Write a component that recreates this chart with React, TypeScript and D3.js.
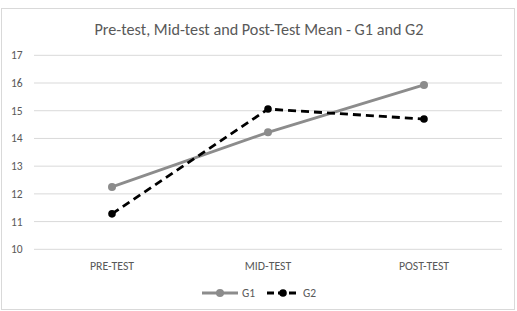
import * as d3 from "d3";

const categories = ["PRE-TEST", "MID-TEST", "POST-TEST"];
const g1Values = [12.25, 14.22, 15.93];
const g2Values = [11.28, 15.06, 14.7];
const yTicks = [10, 11, 12, 13, 14, 15, 16, 17];

const series = [
  { name: "G1", values: g1Values, color: "#8c8c8c", dash: "", r: 4 },
  { name: "G2", values: g2Values, color: "#000000", dash: "8,5", r: 3.8 },
];

export default function App() {
  const width = 517;
  const height = 311;
  const font = "Carlito, 'Open Sans', 'Liberation Sans', sans-serif";

  const x = d3.scaleBand().domain(categories).range([34, 502]);
  const y = d3.scaleLinear().domain([10, 17]).range([249.3, 55.3]);
  const line = d3
    .line<number>()
    .x((_, i) => (x(categories[i]) || 0) + x.bandwidth() / 2)
    .y((d) => y(d));

  return (
    <svg
      width={width}
      height={height}
      style={{ position: "absolute", left: 0, top: 0, background: "#fff" }}
    >
      <rect x={1.5} y={8.5} width={513} height={301} fill="#fff" stroke="#d9d9d9" />
      <text
        x={259}
        y={35}
        textAnchor="middle"
        fontSize={16.2}
        fontFamily={font}
        fill="#595959"
      >
        Pre-test, Mid-test and Post-Test Mean - G1 and G2
      </text>

      {/* gridlines + y labels */}
      {yTicks.map((t) => (
        <g key={t}>
          <line x1={34} x2={502} y1={y(t)} y2={y(t)} stroke="#d9d9d9" strokeWidth={1} />
          <text
            x={11}
            y={y(t)}
            dominantBaseline="central"
            fontSize={11.5}
            fontFamily={font}
            fill="#595959"
          >
            {t}
          </text>
        </g>
      ))}

      {/* category labels */}
      {categories.map((c) => (
        <text
          key={c}
          x={(x(c) || 0) + x.bandwidth() / 2}
          y={266}
          textAnchor="middle"
          dominantBaseline="central"
          fontSize={11.8}
          fontFamily={font}
          fill="#595959"
        >
          {c}
        </text>
      ))}

      {/* series */}
      {series.map((s) => (
        <g key={s.name}>
          <path
            d={line(s.values) || ""}
            fill="none"
            stroke={s.color}
            strokeWidth={2.8}
            strokeDasharray={s.dash}
          />
          {s.values.map((v, i) => (
            <circle
              key={i}
              cx={(x(categories[i]) || 0) + x.bandwidth() / 2}
              cy={y(v)}
              r={s.r}
              fill={s.color}
            />
          ))}
        </g>
      ))}

      {/* legend */}
      {series.map((s, i) => {
        const lx = i === 0 ? 202 : 267;
        const lw = i === 0 ? 36 : 32;
        return (
          <g key={s.name}>
            <line
              x1={lx}
              x2={lx + lw}
              y1={293}
              y2={293}
              stroke={s.color}
              strokeWidth={2.8}
              strokeDasharray={s.dash ? "7,4" : ""}
            />
            <circle cx={lx + lw / 2} cy={293} r={s.r} fill={s.color} />
            <text
              x={lx + lw + 4}
              y={293}
              dominantBaseline="central"
              fontSize={11.5}
              fontFamily={font}
              fill="#595959"
            >
              {s.name}
            </text>
          </g>
        );
      })}
    </svg>
  );
}
